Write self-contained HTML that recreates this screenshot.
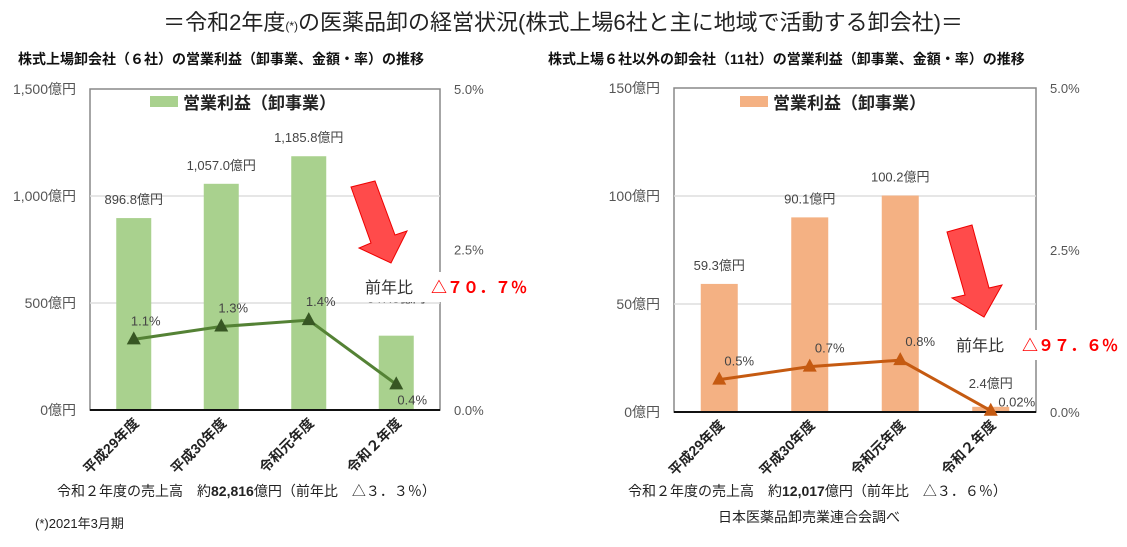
<!DOCTYPE html>
<html><head><meta charset="utf-8">
<style>
body{margin:0;width:1127px;height:542px;background:#fff;overflow:hidden;font-family:"Liberation Sans","Noto Sans CJK JP",sans-serif;}
svg text{font-family:"Liberation Sans","Noto Sans CJK JP",sans-serif;}
</style></head>
<body>
<svg id="c" width="1127" height="542">
<text x="563" y="30" text-anchor="middle" font-size="22" fill="#222">＝令和2年度<tspan font-size="12">(*)</tspan>の医薬品卸の経営状況(株式上場6社と主に地域で活動する卸会社)＝</text>
<text x="18" y="64" font-size="14" font-weight="bold" fill="#111">株式上場卸会社（６社）の営業利益（卸事業、金額・率）の推移</text>
<text x="548" y="64" font-size="14" font-weight="bold" fill="#111">株式上場６社以外の卸会社（11社）の営業利益（卸事業、金額・率）の推移</text>
<text x="57" y="496" font-size="14" fill="#222">令和２年度の売上高　約<tspan font-weight="bold">82,816</tspan>億円（前年比　△３．３％）</text>
<text x="35" y="528" font-size="13" fill="#222">(*)2021年3月期</text>
<text x="628" y="496" font-size="14" fill="#222">令和２年度の売上高　約<tspan font-weight="bold">12,017</tspan>億円（前年比　△３．６％）</text>
<text x="718" y="522" font-size="14" fill="#222">日本医薬品卸売業連合会調べ</text>
<polygon points="351,187 375,181 395,235 407,231 391,263 359,248 371,243" fill="#ff4b4b" stroke="#e00"/>
<polygon points="947,232 972,225 989,288 1002,285 984,317 952,298 965,295" fill="#ff4b4b" stroke="#e00"/>
<rect x="360" y="272" width="170" height="30" fill="#fff"/>
<text x="365" y="293" font-size="16" fill="#333">前年比</text>
<text x="431" y="293" font-size="16" font-weight="bold" fill="#f00">△７０．７％</text>
<rect x="950" y="330" width="175" height="30" fill="#fff"/>
<text x="956" y="351" font-size="16" fill="#333">前年比</text>
<text x="1022" y="351" font-size="16" font-weight="bold" fill="#f00">△９７．６％</text>
</svg>
<script>
const categories=["平成29年度","平成30年度","令和元年度","令和２年度"];
const leftProfit=[896.8,1057.0,1185.8,347.3];
const leftRate=[1.1,1.3,1.4,0.4];
const leftProfitLabels=["896.8億円","1,057.0億円","1,185.8億円","347.3億円"];
const leftRateLabels=["1.1%","1.3%","1.4%","0.4%"];
const leftTicks=[0,500,1000,1500];
const leftTickLabels=["0億円","500億円","1,000億円","1,500億円"];
const rightProfit=[59.3,90.1,100.2,2.4];
const rightRate=[0.5,0.7,0.8,0.02];
const rightProfitLabels=["59.3億円","90.1億円","100.2億円","2.4億円"];
const rightRateLabels=["0.5%","0.7%","0.8%","0.02%"];
const rightTicks=[0,50,100,150];
const rightTickLabels=["0億円","50億円","100億円","150億円"];
const pctTicks=[0,2.5,5];
const pctTickLabels=["0.0%","2.5%","5.0%"];
const NS="http://www.w3.org/2000/svg";
const svg=document.getElementById('c');
const first=svg.querySelector('polygon');
function mk(tag,a,txt){const e=document.createElementNS(NS,tag);for(const k in a)e.setAttribute(k,a[k]);if(txt!==undefined)e.textContent=txt;svg.insertBefore(e,first);return e;}
function draw(o){
  const x0=o.x0,x1=o.x1,yT=o.yT,yB=o.yB,max=o.max;
  const y=v=>yB-v/max*(yB-yT);
  const yp=v=>yB-v/5*(yB-yT);
  const bw=(x1-x0)/categories.length;
  const cx=i=>x0+bw*(i+0.5);
  let e=mk('rect',{x:x0,y:yT,width:x1-x0,height:yB-yT,fill:'#fff',stroke:'#888','stroke-width':1.5});
  
  o.ticks.forEach((t,i)=>{
    if(t>0&&t<max){e=mk('line',{x1:x0,x2:x1,y1:y(t),y2:y(t),stroke:'#ddd','stroke-width':1.5});
    }
    e=mk('text',{x:x0-14,y:y(t)+5,'text-anchor':'end','font-size':14,fill:'#555'},o.tl[i]);
    
  });
  pctTicks.forEach((t,i)=>{
    e=mk('text',{x:x1+14,y:yp(t)+5,'font-size':13,fill:'#555'},pctTickLabels[i]);
    
  });
  o.vals.forEach((v,i)=>{
    e=mk('rect',{x:cx(i)-o.bwid/2,y:y(v),width:o.bwid,height:yB-y(v),fill:o.bar});
    
    const ly=i===3?y(v)-o.l4:y(v)-14;
    e=mk('text',{x:cx(i),y:ly,'text-anchor':'middle','font-size':13,fill:'#444'},o.vl[i]);
    
    e=mk('text',{x:cx(i)+6,y:yB+14,'font-size':14,'font-weight':'bold',fill:'#222','text-anchor':'end',transform:`rotate(-45 ${cx(i)+6} ${yB+14})`},categories[i]);
    
  });
  e=mk('line',{x1:x0,x2:x1,y1:yB,y2:yB,stroke:'#111','stroke-width':2});
  
  e=mk('polyline',{points:o.rate.map((r,i)=>cx(i)+','+yp(r)).join(' '),fill:'none',stroke:o.line,'stroke-width':3});
  
  o.rate.forEach((r,i)=>{
    const px=cx(i),py=yp(r);
    e=mk('polygon',{points:`${px},${py-8} ${px-7},${py+5} ${px+7},${py+5}`,fill:o.mk});
    
    const lx=i===3?px+o.r4[0]:px+o.roff, lyy=i===3?py+o.r4[1]:py-14;
    e=mk('text',{x:lx,y:lyy,'text-anchor':'middle','font-size':13,fill:'#444'},o.rl[i]);
    
  });
  e=mk('rect',{x:o.lx,y:96,width:28,height:11,fill:o.bar});
  
  e=mk('text',{x:o.lx+33,y:109,'font-size':17,'font-weight':'bold',fill:'#222'},'営業利益（卸事業）');
  
}
draw({p:'left',x0:90,x1:440,yT:89,yB:410,max:1500,bwid:35,l4:33,roff:12,r4:[16,20],ticks:leftTicks,tl:leftTickLabels,vals:leftProfit,vl:leftProfitLabels,rate:leftRate,rl:leftRateLabels,bar:'#a9d18e',line:'#548235',mk:'#375623',lx:150});
draw({p:'right',x0:674,x1:1036,yT:88,yB:412,max:150,bwid:37,l4:19,roff:20,r4:[26,-4],ticks:rightTicks,tl:rightTickLabels,vals:rightProfit,vl:rightProfitLabels,rate:rightRate,rl:rightRateLabels,bar:'#f4b183',line:'#c55a11',mk:'#c55a11',lx:740});
</script>
</body></html>
